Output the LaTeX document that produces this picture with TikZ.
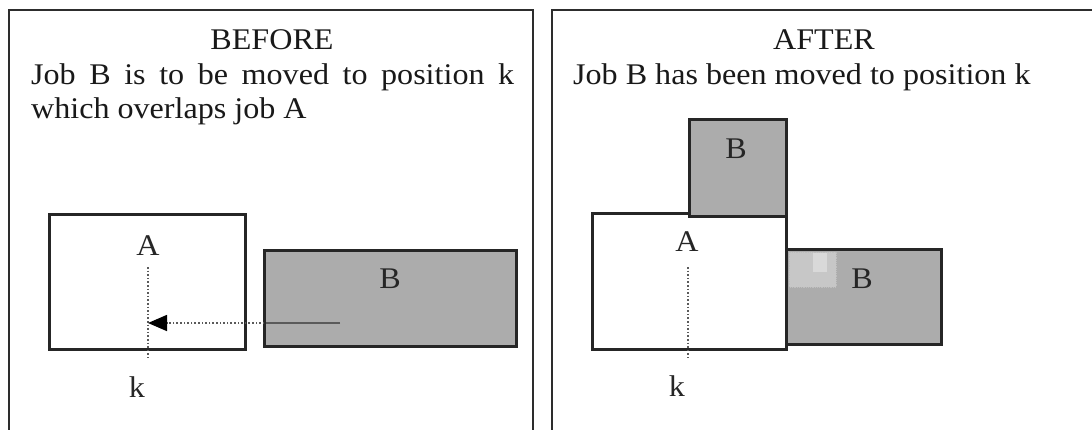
\documentclass[tikz,border=0pt]{standalone}
\usepackage{fontspec}
\setmainfont{Liberation Serif}[FakeStretch=1.07]
\usetikzlibrary{arrows.meta}
\definecolor{boxgray}{RGB}{172,172,172}
\definecolor{framecol}{RGB}{45,45,45}
\definecolor{dotcol}{RGB}{90,90,90}
\tikzset{
  frame/.style={draw=framecol, line width=2pt},
  jobbox/.style={draw=black!85, line width=2.6pt, inner sep=0pt, anchor=north west},
  graybox/.style={jobbox, fill=boxgray},
  whitebox/.style={jobbox, fill=white},
  txt/.style={anchor=base, inner sep=0pt, font=\fontsize{30}{34}\selectfont, text=black!90},
  lbl/.style={anchor=base, inner sep=0pt, font=\fontsize{30}{34}\selectfont, text=black!85},
  kline/.style={draw=dotcol, line width=1.6pt, dotted},
}
\begin{document}
\begin{tikzpicture}[x=1pt, y=-1pt]
\useasboundingbox (0,0) rectangle (1092,429);
\fill[white] (0,0) rectangle (1092,429);
% panel frames
\coordinate (L1) at (9,440);
\coordinate (L2) at (9,10);
\coordinate (L3) at (533,10);
\coordinate (L4) at (533,440);
\draw[frame] (L1) -- (L2) -- (L3) -- (L4);
\coordinate (R1) at (552,440);
\coordinate (R2) at (552,10);
\coordinate (R3) at (1100,10);
\draw[frame] (R1) -- (R2) -- (R3);
% ---------- BEFORE ----------
\node[txt] (before) at (272,49) {BEFORE};
\node[txt, anchor=base west] (bl1) at (31,84) {\makebox[483pt][s]{Job B is to be moved to position k}};
\node[txt, anchor=base west] (bl2) at (31,118) {which overlaps job A};
\node[whitebox, minimum width=196pt, minimum height=135pt] (Aleft) at (48,213) {};
\node[graybox, minimum width=252pt, minimum height=96pt] (Bleft) at (263,249) {};
\node[lbl] (Alabl) at (148,255) {A};
\node[lbl] (Blabl) at (390,288) {B};
\coordinate (kt) at (148,267);
\coordinate (kb) at (148,358);
\draw[kline] (kt) -- (kb);
\node[lbl] (kl) at (137,397) {k};
\coordinate (as) at (340,323);
\coordinate (am) at (268,323);
\coordinate (at) at (148,323);
\draw[line width=1.6pt, draw=dotcol] (as) -- (am);
\draw[line width=1.6pt, draw=dotcol, dotted, -{Triangle[length=19pt, width=16pt, fill=black, black]}] (am) -- (at);
% ---------- AFTER ----------
\node[txt] (after) at (824,49) {AFTER};
\node[txt, anchor=base west] (al1) at (573,84) {Job B has been moved to position k};
\node[whitebox, minimum width=194pt, minimum height=136pt] (Aright) at (591,212) {};
\node[graybox, minimum width=97pt, minimum height=97pt] (Btop) at (688,118) {};
\node[graybox, minimum width=155pt, minimum height=95pt] (Bright) at (785,248) {};
\draw[draw=black!25, fill=black!22, line width=0.8pt, densely dotted] (789,252) rectangle (836,287);
\fill[black!15] (813,253) rectangle (827,272);
\node[lbl] (Blabt) at (736,158) {B};
\node[lbl] (Blabr) at (862,288) {B};
\node[lbl] (Alabr) at (687,251) {A};
\coordinate (kt2) at (688,267);
\coordinate (kb2) at (688,358);
\draw[kline] (kt2) -- (kb2);
\node[lbl] (kr) at (677,396) {k};
\end{tikzpicture}
\end{document}
